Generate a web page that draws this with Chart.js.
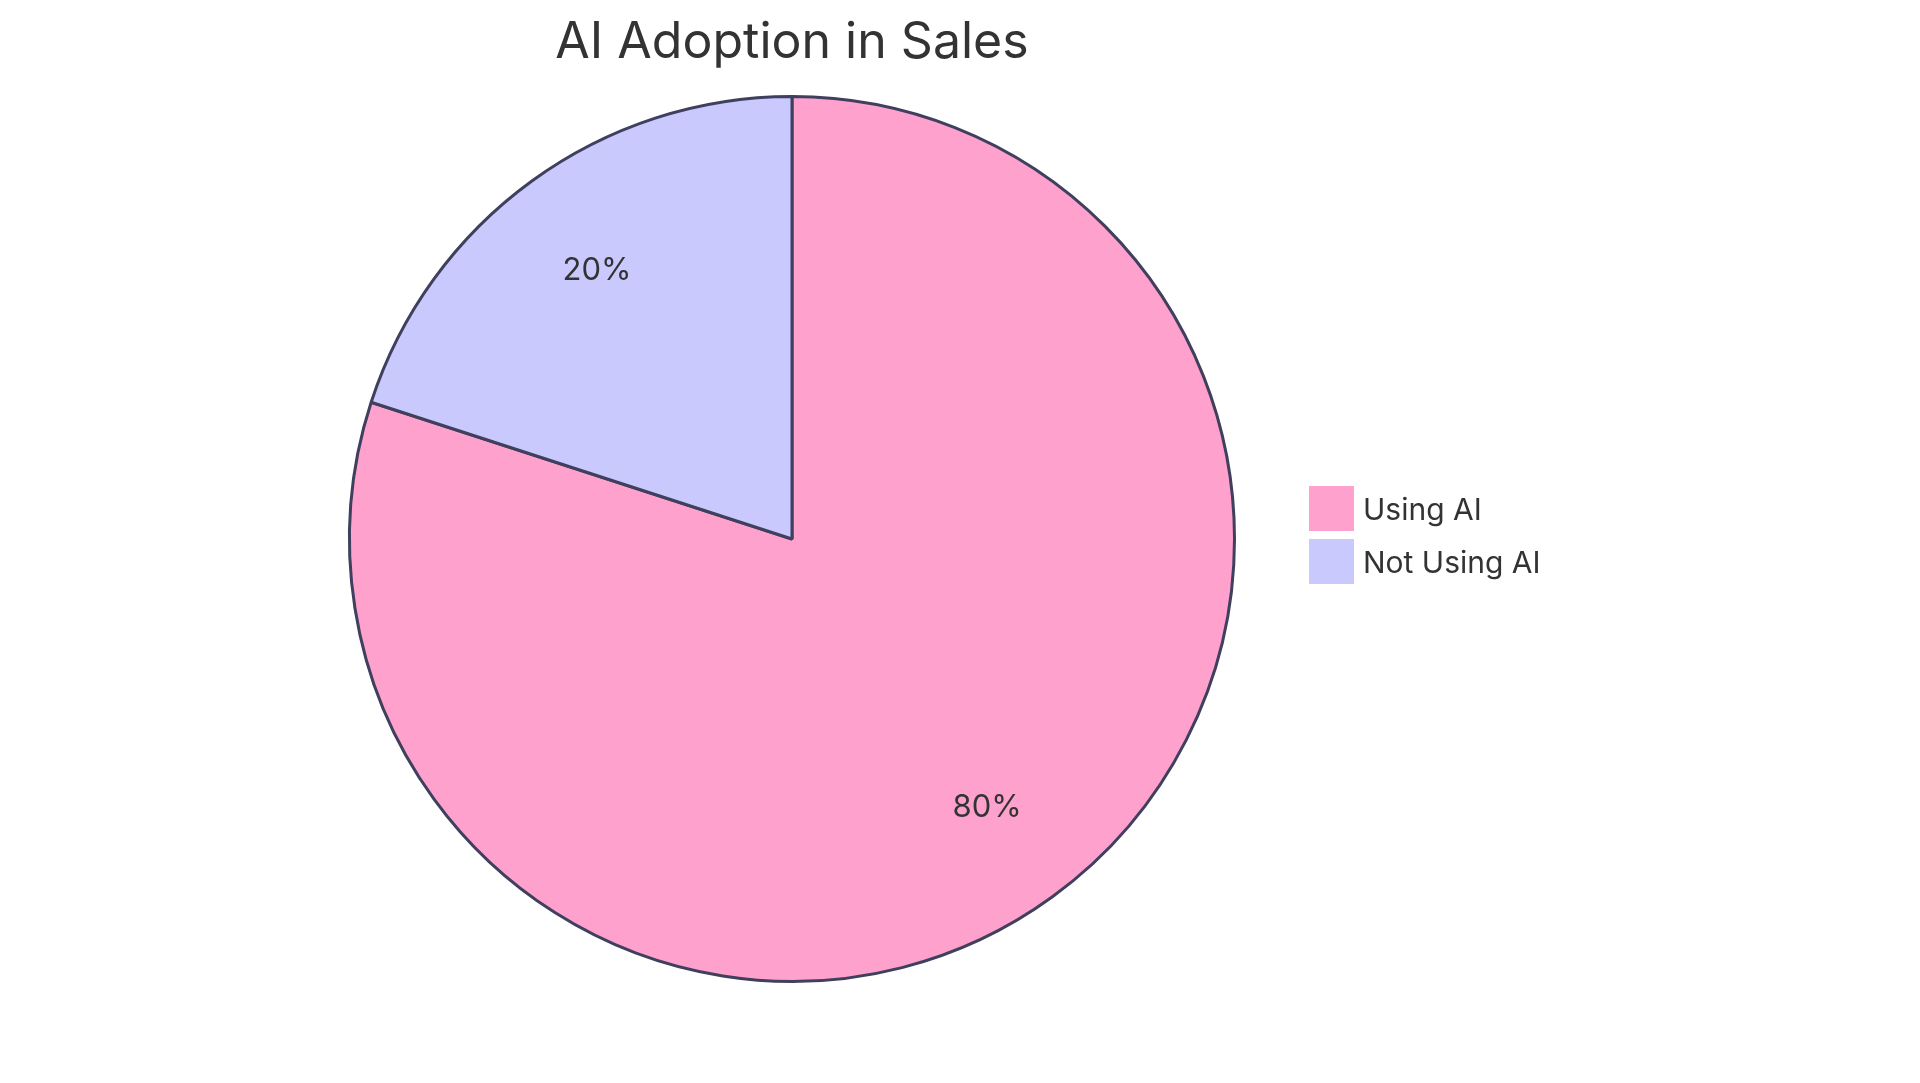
<!DOCTYPE html>
<html>
<head>
<meta charset="utf-8">
<script src="https://cdn.jsdelivr.net/npm/chart.js@4"></script>
<style>
  body { margin: 0; background: #fff; font-family: Inter, "Open Sans", sans-serif; }
  #wrap { position: relative; width: 1920px; height: 1083px; }
  #title { position: absolute; left: 0; width: 1584px; top: 10px; text-align: center; font-size: 50px; color: #333; }
  #legend { position: absolute; left: 1309px; top: 486px; }
  .item { display: flex; align-items: center; height: 45px; margin-bottom: 8px; font-size: 30px; color: #333; }
  .swatch { width: 45px; height: 45px; margin-right: 9px; }
</style>
</head>
<body>
<div id="wrap">
  <canvas id="pie" width="1920" height="1083"></canvas>
  <div id="title">AI Adoption in Sales</div>
  <div id="legend"></div>
</div>
<script>
const labels = ['Using AI', 'Not Using AI'];
const values = [80, 20];
const colors = ['#ffa1cd', '#c9c9fe'];

const legend = document.getElementById('legend');
labels.forEach((l, i) => {
    legend.innerHTML += `<div class="item"><span class="swatch" style="background:${colors[i]}"></span>${l}</div>`;
});

// percent labels inside slices
const pctLabels = {
    id: 'pctLabels',
    afterDatasetsDraw(chart) {
        const ctx = chart.ctx;
        const total = values.reduce((a, b) => a + b, 0);
        chart.getDatasetMeta(0).data.forEach((arc, i) => {
            const mid = (arc.startAngle + arc.endAngle) / 2;
            const r = arc.outerRadius * 0.75;
            ctx.save();
            ctx.font = '31px Inter, sans-serif';
            ctx.fillStyle = '#333';
            ctx.textAlign = 'center';
            ctx.textBaseline = 'middle';
            ctx.fillText(Math.round(values[i] / total * 100) + '%', arc.x + Math.cos(mid) * r, arc.y + Math.sin(mid) * r);
            ctx.restore();
        });
    }
};

new Chart(document.getElementById('pie'), {
    type: 'pie',
    data: {
        labels: labels,
        datasets: [{ data: values, backgroundColor: colors, borderColor: '#3f3f5e', borderWidth: 3 }]
    },
    options: {
        responsive: false,
        animation: false,
        layout: { padding: { left: 348, right: 684, top: 95, bottom: 100 } },
        plugins: { legend: { display: false }, tooltip: { enabled: false } }
    },
    plugins: [pctLabels]
});
</script>
</body>
</html>
